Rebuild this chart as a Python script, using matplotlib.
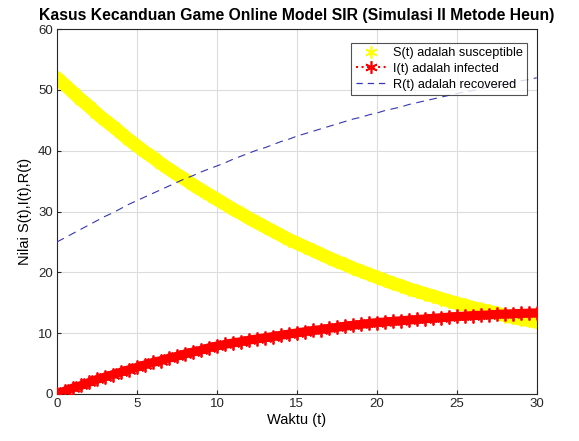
import matplotlib
matplotlib.use("Agg")
import matplotlib.pyplot as plt
from matplotlib.lines import Line2D

plt.rcParams['font.family'] = ['Liberation Sans', 'DejaVu Sans']

t = [i * 0.5 for i in range(61)]

S = [52.0, 50.8, 49.6, 48.4, 47.3, 46.1, 45.0, 44.0, 42.9, 41.8,
     40.8, 39.8, 38.9, 37.9, 37.0, 36.1, 35.3, 34.4, 33.6, 32.8,
     32.0, 31.2, 30.4, 29.7, 28.9, 28.2, 27.5, 26.8, 26.1, 25.4,
     24.8, 24.2, 23.6, 23.0, 22.4, 21.8, 21.3, 20.7, 20.2, 19.7,
     19.2, 18.7, 18.2, 17.8, 17.3, 16.9, 16.5, 16.1, 15.7, 15.3,
     14.9, 14.6, 14.2, 13.9, 13.6, 13.3, 12.9, 12.6, 12.3, 12.1,
     11.8]

I = [0.0, 0.5, 1.0, 1.4, 1.9, 2.4, 2.8, 3.2, 3.6, 4.0,
     4.4, 4.8, 5.2, 5.5, 5.9, 6.2, 6.6, 6.9, 7.2, 7.6,
     7.9, 8.15, 8.4, 8.6, 8.85, 9.05, 9.25, 9.45, 9.65, 9.85,
     10.05, 10.25, 10.45, 10.6, 10.8, 10.95, 11.15, 11.3, 11.45, 11.6,
     11.75, 11.85, 11.95, 12.05, 12.15, 12.25, 12.35, 12.45, 12.55, 12.65,
     12.75, 12.8, 12.9, 12.95, 13.0, 13.1, 13.15, 13.2, 13.25, 13.3,
     13.35]

R = [25.0, 25.7, 26.4, 27.1, 27.8, 28.5, 29.2, 29.8, 30.5, 31.2,
     31.8, 32.4, 33.0, 33.6, 34.2, 34.8, 35.4, 35.9, 36.5, 37.0,
     37.5, 38.0, 38.6, 39.1, 39.6, 40.1, 40.5, 41.0, 41.5, 41.9,
     42.4, 42.8, 43.2, 43.6, 44.0, 44.4, 44.8, 45.2, 45.5, 45.9,
     46.2, 46.6, 46.9, 47.2, 47.6, 47.9, 48.2, 48.5, 48.8, 49.1,
     49.4, 49.7, 49.9, 50.2, 50.5, 50.7, 51.0, 51.2, 51.5, 51.7,
     52.0]

xticks = [0, 5, 10, 15, 20, 25, 30]
yticks = [0, 10, 20, 30, 40, 50, 60]

fig = plt.figure(figsize=(5.79, 4.41), dpi=100)
ax = fig.add_axes([0.0984, 0.1066, 0.8286, 0.8274])

yellow = '#ffff00'
red = '#ff0000'
blue = '#3535b5'
ast = (6, 2, 0)

# S band
ax.plot(t, S, color=yellow, lw=9.5, solid_capstyle='round', zorder=2)
ax.plot(t, S, ls='none', marker=ast, ms=10, color=yellow, mec=yellow, mew=1.5, zorder=2)
# I band
ax.plot(t, I, color=red, lw=6.5, solid_capstyle='round', zorder=3)
ax.plot(t, I, ls=':', marker=ast, ms=10, color=red, mec=red, mew=1.3, zorder=3)
# R line
ax.plot(t, R, ls=(0, (7, 5)), color=blue, lw=0.8, zorder=4)

ax.set_xlim(0, 30)
ax.set_ylim(0, 60)
ax.set_xticks(xticks)
ax.set_yticks(yticks)
ax.grid(True, color='#dcdcdc', lw=0.8)
ax.set_axisbelow(True)
ax.tick_params(direction='in', length=3, labelsize=9.5, colors='#262626', pad=3)
for sp in ax.spines.values():
    sp.set_color('#262626')
    sp.set_linewidth(0.8)

ax.set_title('Kasus Kecanduan Game Online Model SIR (Simulasi II Metode Heun)',
             fontsize=11.3, fontweight='bold', pad=6.5)
ax.set_xlabel('Waktu (t)', fontsize=10.5, labelpad=2)
ax.set_ylabel('Nilai S(t),I(t),R(t)', fontsize=10.5, labelpad=4)

handles = [
    Line2D([], [], ls='none', marker=ast, ms=9, mew=1.2, color=yellow),
    Line2D([], [], ls=':', marker=ast, ms=9, mew=1.2, color=red),
    Line2D([], [], ls=(0, (5, 4)), color=blue, lw=0.9),
]
labels = ['S(t) adalah susceptible', 'I(t) adalah infected', 'R(t) adalah recovered']
leg = ax.legend(handles, labels, loc='upper right', bbox_to_anchor=(0.98, 0.963),
                fontsize=9.2, frameon=True, fancybox=False, edgecolor='#262626',
                handlelength=2.4, handletextpad=0.5, borderpad=0.35, labelspacing=0.3,
                borderaxespad=0)
leg.get_frame().set_linewidth(0.8)

fig.savefig('out.png', dpi=100)
